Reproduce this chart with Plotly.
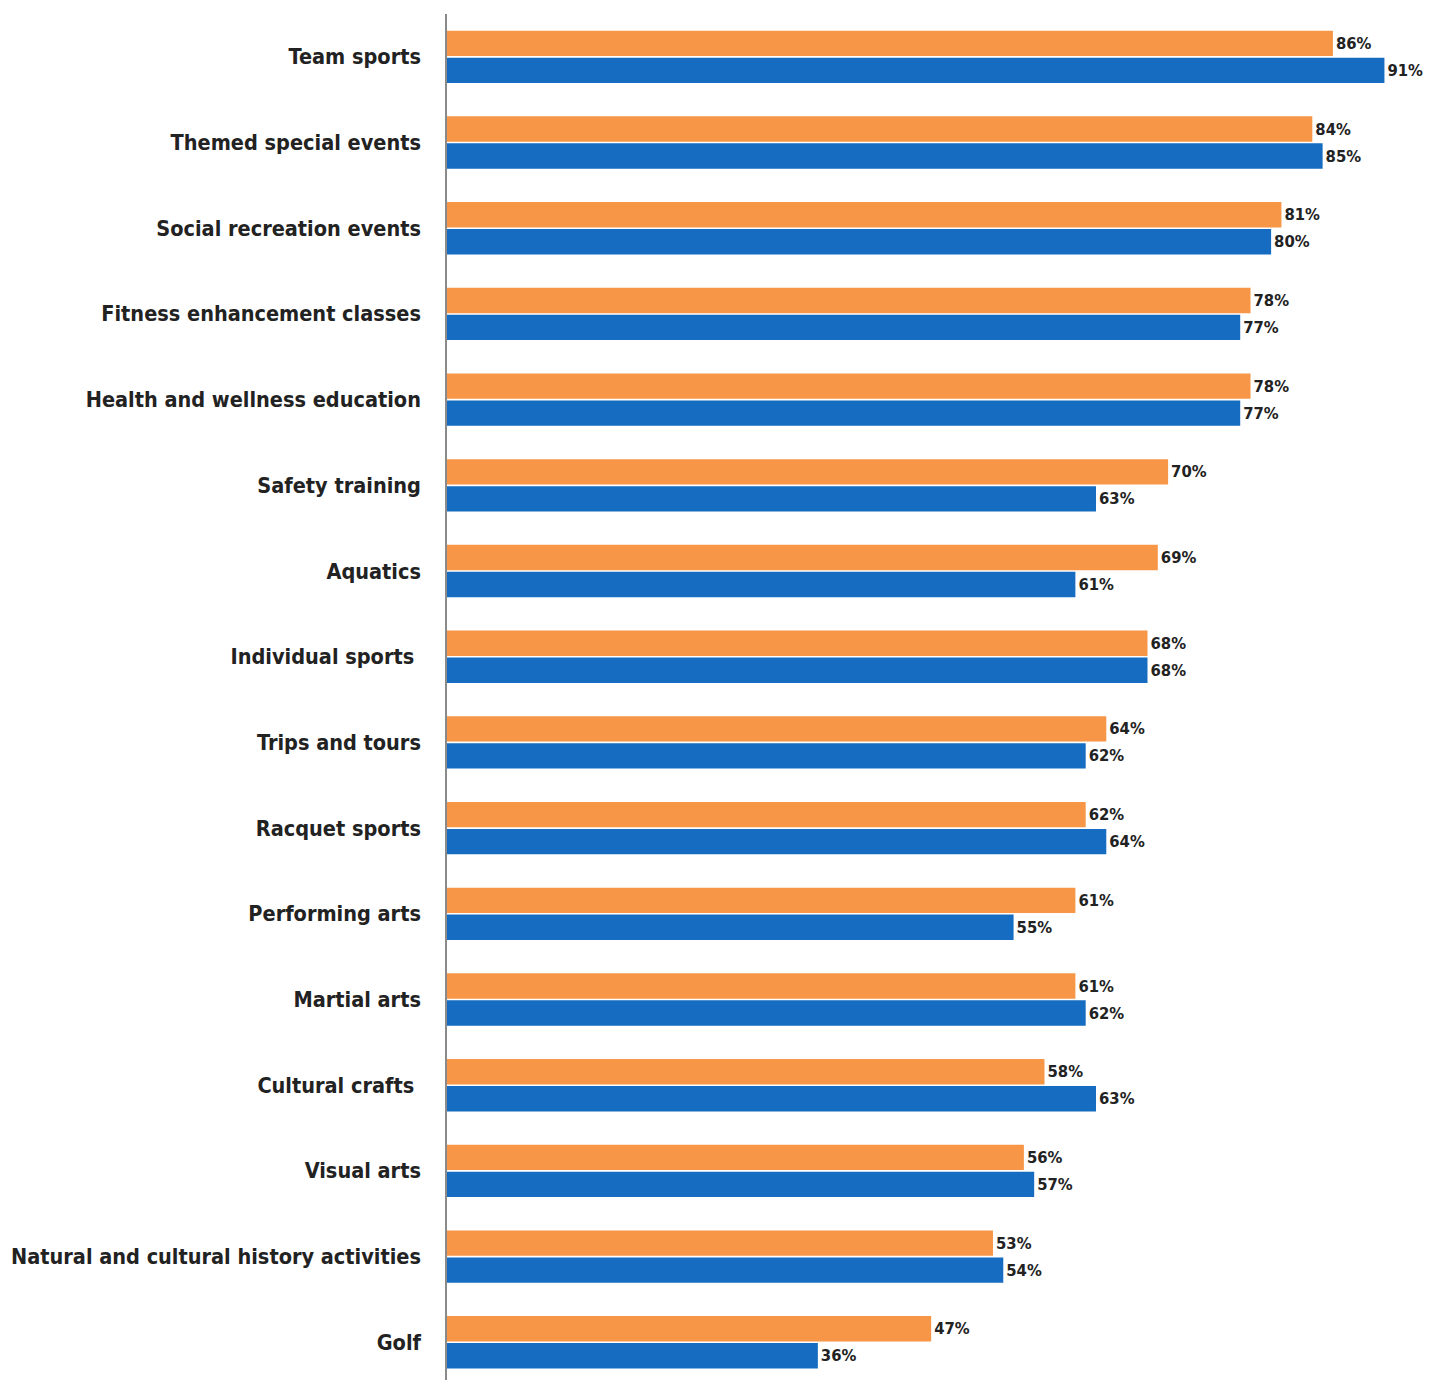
import plotly.graph_objects as go

categories = ["Team sports", "Themed special events", "Social recreation events",
              "Fitness enhancement classes", "Health and wellness education",
              "Safety training", "Aquatics", "Individual sports\u00a0", "Trips and tours",
              "Racquet sports", "Performing arts", "Martial arts", "Cultural crafts\u00a0",
              "Visual arts", "Natural and cultural history activities", "Golf"]
orange_vals = [86, 84, 81, 78, 78, 70, 69, 68, 64, 62, 61, 61, 58, 56, 53, 47]
blue_vals = [91, 85, 80, 77, 77, 63, 61, 68, 62, 64, 55, 62, 63, 57, 54, 36]

FONT = "DejaVu Sans Condensed, Liberation Sans Narrow, sans-serif"

fig = go.Figure()
fig.add_trace(go.Bar(
    y=categories, x=orange_vals, orientation="h", name="Orange",
    marker=dict(color="#F79646", line=dict(width=0)),
    text=[f"{v}%" for v in orange_vals], textposition="outside",
    textfont=dict(family=FONT, size=16.5, color="#222222", weight="bold"), cliponaxis=False,
))
fig.add_trace(go.Bar(
    y=categories, x=blue_vals, orientation="h", name="Blue",
    marker=dict(color="#156CC0", line=dict(width=0)),
    text=[f"{v}%" for v in blue_vals], textposition="outside",
    textfont=dict(family=FONT, size=16.5, color="#222222", weight="bold"), cliponaxis=False,
))

fig.update_layout(
    width=1430, height=1372,
    margin=dict(l=439, r=0, t=6, b=0),
    barmode="group", bargap=0.37, bargroupgap=0.06,
    plot_bgcolor="white", paper_bgcolor="white",
    showlegend=False,
    font=dict(family=FONT, color="#222222"),
)
fig.update_xaxes(range=[0, 96.2], showgrid=False, zeroline=False, showticklabels=False,
                 showline=False, ticks="", automargin=False)
fig.update_yaxes(type="category", range=[15.44, -0.5], showgrid=False, zeroline=False,
                 showline=True, linecolor="#8a8a8a", linewidth=1.5, ticks="",
                 automargin=False,
                 tickfont=dict(family=FONT, size=21.5, color="#222222", weight="bold"),
                 ticklabelstandoff=20)

fig.write_html("out.html")
